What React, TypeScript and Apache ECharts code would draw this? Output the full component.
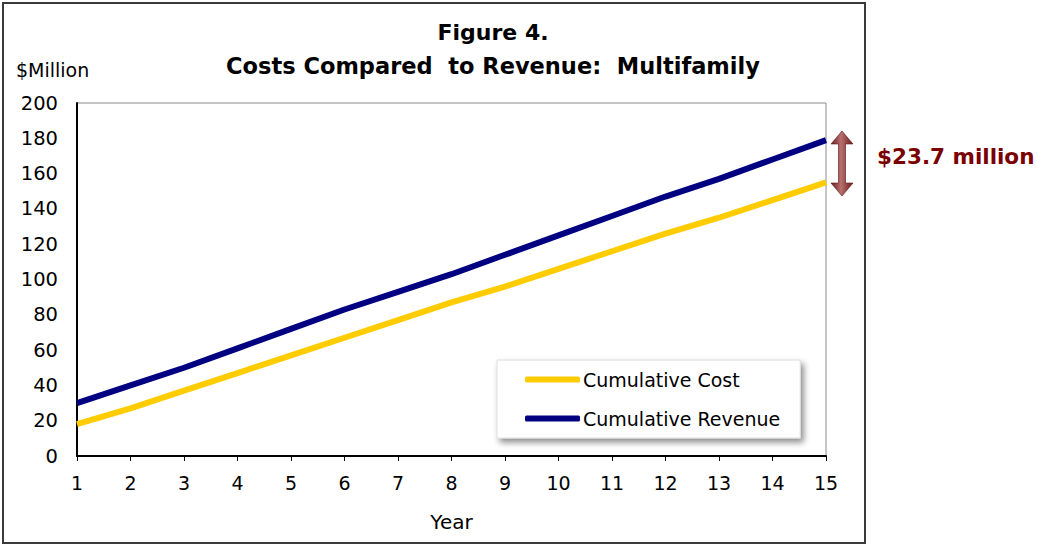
import React, { useEffect, useRef } from "react";
import * as echarts from "echarts";

const years = ["1", "2", "3", "4", "5", "6", "7", "8", "9", "10", "11", "12", "13", "14", "15"];
const cumulativeCost = [18, 27, 37, 47, 57, 67, 77, 87, 96, 106, 116, 126, 135, 145, 155];
const cumulativeRevenue = [30, 40, 50, 61, 72, 83, 93, 103, 114, 125, 136, 147, 157, 168, 179];
const yTicks = { min: 0, max: 200, interval: 20 };
const titleLine1 = "Figure 4.";
const titleLine2 = "Costs Compared  to Revenue:  Multifamily";
const yUnit = "$Million";
const gapLabel = "$23.7 million";

const FONT = "'DejaVu Sans', Verdana, sans-serif";

export default function App() {
  const ref = useRef<HTMLDivElement>(null);
  useEffect(() => {
    if (!ref.current) return;
    const chart = echarts.init(ref.current, undefined, { renderer: "svg" });
    const ax = 842, top = 131, bot = 196;
    chart.setOption({
      animation: false,
      backgroundColor: "#fff",
      textStyle: { fontFamily: FONT },
      grid: {
        left: 77, right: 211, top: 103, bottom: 90,
        show: true, borderColor: "#8c8c8c", borderWidth: 1, backgroundColor: "transparent",
      },
      xAxis: {
        type: "category",
        data: years,
        boundaryGap: false,
        name: "Year",
        nameLocation: "middle",
        nameGap: 56,
        nameTextStyle: { fontSize: 20, color: "#000", fontFamily: FONT },
        axisLine: { lineStyle: { color: "#000", width: 2 } },
        axisTick: { show: true, alignWithLabel: true, length: 5, lineStyle: { color: "#000", width: 1 } },
        axisLabel: { color: "#000", fontSize: 19, margin: 17, fontFamily: FONT },
        splitLine: { show: false },
      },
      yAxis: {
        type: "value",
        min: yTicks.min,
        max: yTicks.max,
        interval: yTicks.interval,
        axisLine: { show: true, lineStyle: { color: "#000", width: 2 } },
        axisTick: { show: false },
        axisLabel: { color: "#000", fontSize: 19.5, margin: 19, fontFamily: FONT },
        splitLine: { show: false },
      },
      legend: {
        orient: "vertical",
        left: 497,
        top: 360,
        padding: [10, 20, 10, 28],
        itemGap: 20,
        itemWidth: 55,
        itemHeight: 6,
        icon: "roundRect",
        backgroundColor: "#fff",
        borderColor: "#dcdcdc",
        borderWidth: 1,
        shadowBlur: 6,
        shadowColor: "rgba(0,0,0,0.45)",
        shadowOffsetX: 3,
        shadowOffsetY: 4,
        textStyle: { color: "#000", fontSize: 19, fontFamily: FONT, padding: [0, 0, 0, -2] },
        data: ["Cumulative Cost", "Cumulative Revenue"],
      },
      series: [
        {
          name: "Cumulative Cost",
          type: "line",
          data: cumulativeCost,
          showSymbol: false,
          symbol: "none",
          lineStyle: { color: "#FFCC00", width: 6 },
          itemStyle: { color: "#FFCC00" },
          z: 3,
        },
        {
          name: "Cumulative Revenue",
          type: "line",
          data: cumulativeRevenue,
          showSymbol: false,
          symbol: "none",
          lineStyle: { color: "#000080", width: 6 },
          itemStyle: { color: "#000080" },
          z: 3,
        },
      ],
      graphic: [
        {
          type: "rect",
          shape: { x: 3, y: 3, width: 862, height: 540 },
          style: { fill: "none", stroke: "#3a3a3a", lineWidth: 2 },
          silent: true,
          z: 0,
        },
        {
          type: "text",
          x: 493, y: 32,
          style: { text: titleLine1, font: `bold 22px ${FONT}`, fill: "#000", textAlign: "center", textVerticalAlign: "middle" },
        },
        {
          type: "text",
          x: 493, y: 66,
          style: { text: titleLine2, font: `bold 22.5px ${FONT}`, fill: "#000", textAlign: "center", textVerticalAlign: "middle" },
        },
        {
          type: "text",
          x: 16, y: 70,
          style: { text: yUnit, font: `19px ${FONT}`, fill: "#000", textAlign: "left", textVerticalAlign: "middle" },
        },
        {
          type: "polygon",
          shape: {
            points: [
              [ax, top], [ax + 11, top + 13], [ax + 3.5, top + 13], [ax + 3.5, bot - 13],
              [ax + 11, bot - 13], [ax, bot], [ax - 11, bot - 13], [ax - 3.5, bot - 13],
              [ax - 3.5, top + 13], [ax - 11, top + 13],
            ],
          },
          style: {
            fill: new echarts.graphic.LinearGradient(0, 0, 1, 0, [
              { offset: 0, color: "#6a1c1c" },
              { offset: 0.45, color: "#b8706e" },
              { offset: 1, color: "#6a1c1c" },
            ]),
            stroke: "#5a1515",
            lineWidth: 0.6,
          },
        },
        {
          type: "text",
          x: 877, y: 156,
          style: { text: gapLabel, font: `bold 21.5px ${FONT}`, fill: "#7a0000", textAlign: "left", textVerticalAlign: "middle" },
        },
      ],
    });
    return () => chart.dispose();
  }, []);
  return <div ref={ref} style={{ position: "absolute", left: 0, top: 0, width: 1037, height: 546 }} />;
}
